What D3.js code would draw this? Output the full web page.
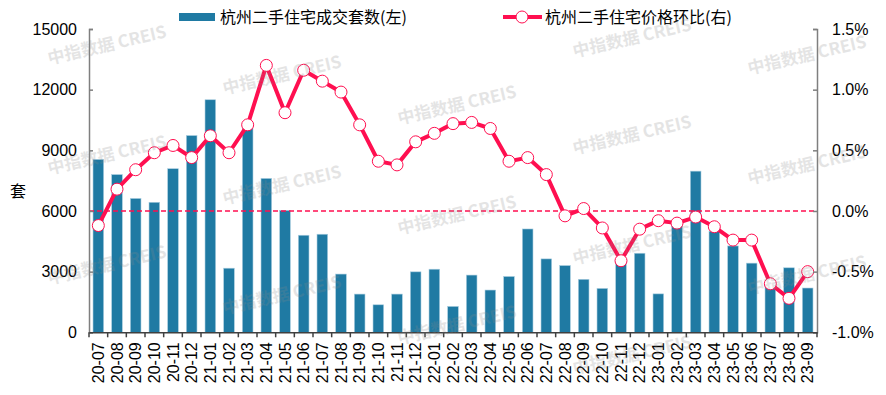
<!DOCTYPE html>
<html>
<head>
<meta charset="utf-8">
<script src="https://cdn.jsdelivr.net/npm/d3@7"></script>
<style>
  body { margin: 0; background: #fff; }
  svg { display: block; font-family: "Liberation Sans", Arial, sans-serif; }
</style>
</head>
<body>
<svg id="chart" width="886" height="395"></svg>
<script>
// months on the x axis
const months = ["20-07","20-08","20-09","20-10","20-11","20-12","21-01","21-02","21-03","21-04",
  "21-05","21-06","21-07","21-08","21-09","21-10","21-11","21-12","22-01","22-02","22-03",
  "22-04","22-05","22-06","22-07","22-08","22-09","22-10","22-11","22-12","23-01","23-02",
  "23-03","23-04","23-05","23-06","23-07","23-08","23-09"];

// second-hand home transactions (units), left axis
const deals = [8550, 7800, 6620, 6430, 8090, 9730, 11500, 3170, 10100, 7610,
  6030, 4800, 4850, 2880, 1890, 1360, 1890, 2990, 3120, 1280, 2830,
  2090, 2760, 5110, 3630, 3300, 2620, 2170, 3600, 3910, 1900, 5300,
  7970, 5000, 4270, 3420, 2300, 3190, 2190];

// second-hand home price month-on-month change (%), right axis
const priceMoM = [-0.12, 0.18, 0.34, 0.48, 0.54, 0.44, 0.62, 0.48, 0.71, 1.20,
  0.81, 1.16, 1.07, 0.98, 0.71, 0.41, 0.38, 0.57, 0.64, 0.72, 0.73,
  0.68, 0.41, 0.44, 0.30, -0.04, 0.02, -0.14, -0.41, -0.15, -0.08, -0.10,
  -0.05, -0.13, -0.24, -0.24, -0.60, -0.72, -0.50];

const leftTicks = [0, 3000, 6000, 9000, 12000, 15000];
const rightTicks = [-1.0, -0.5, 0, 0.5, 1.0, 1.5];

const barName = "杭州二手住宅成交套数(左)";
const lineName = "杭州二手住宅价格环比(右)";

const barColor = "#1f7aa3";
const lineColor = "#ff0f50";

const svg = d3.select("#chart");
const margin = { left: 89, right: 69, top: 29, bottom: 62 };
const width = 886 - margin.left - margin.right;
const height = 395 - margin.top - margin.bottom - 0.7;

const g = svg.append("g").attr("transform", `translate(${margin.left},${margin.top})`);

const x = d3.scaleBand().domain(months).range([0, width]).paddingInner(0.43).paddingOuter(0.215);
const yL = d3.scaleLinear().domain([0, 15000]).range([height, 0]);
const yR = d3.scaleLinear().domain([-1, 1.5]).range([height, 0]);

// bars
g.selectAll(".bar")
  .data(deals)
  .enter()
  .append("rect")
  .attr("class", "bar")
  .attr("x", (d, i) => x(months[i]))
  .attr("width", x.bandwidth())
  .attr("y", d => yL(d))
  .attr("height", d => height - yL(d))
  .attr("fill", barColor)
  .attr("stroke", "#a9cde0")
  .attr("stroke-width", 0.6);

// zero line of the right axis
g.append("line")
  .attr("x1", 0).attr("x2", width)
  .attr("y1", yR(0)).attr("y2", yR(0))
  .attr("stroke", lineColor)
  .attr("stroke-width", 1.5)
  .attr("stroke-dasharray", "5,3");

// price line
const cx = i => x(months[i]) + x.bandwidth() / 2;
const line = d3.line().x((d, i) => cx(i)).y(d => yR(d));
g.append("path")
  .datum(priceMoM)
  .attr("d", line)
  .attr("fill", "none")
  .attr("stroke", lineColor)
  .attr("stroke-width", 4)
  .attr("stroke-linejoin", "round");

g.selectAll(".dot")
  .data(priceMoM)
  .enter()
  .append("circle")
  .attr("class", "dot")
  .attr("cx", (d, i) => cx(i))
  .attr("cy", d => yR(d))
  .attr("r", 6)
  .attr("fill", "#fff")
  .attr("stroke", lineColor)
  .attr("stroke-width", 1);

// axes
const axisColor = "#7f7f7f";
const leftAxis = g.append("g")
  .call(d3.axisLeft(yL).tickValues(leftTicks).tickSize(-4).tickPadding(12).tickFormat(d3.format("d")));
const rightAxis = g.append("g")
  .attr("transform", `translate(${width},0)`)
  .call(d3.axisRight(yR).tickValues(rightTicks).tickSize(-4).tickPadding(15).tickFormat(d => d.toFixed(1) + "%"));
const bottomAxis = g.append("g")
  .attr("transform", `translate(0,${height})`)
  .call(d3.axisBottom(x).tickSize(0).tickPadding(0));

[leftAxis, rightAxis].forEach(a => {
  a.select(".domain").attr("stroke", axisColor).attr("stroke-width", 1.5);
  a.selectAll(".tick line").attr("stroke", axisColor).attr("stroke-width", 1.5);
  a.selectAll("text").attr("font-size", 16).attr("fill", "#000")
    .attr("font-family", "Liberation Sans, Arial, sans-serif");
});

bottomAxis.select(".domain").attr("stroke", "#404040").attr("stroke-width", 1.5);
bottomAxis.selectAll(".tick text")
  .attr("font-size", 16)
  .attr("fill", "#000")
  .attr("font-family", "Liberation Sans, Arial, sans-serif")
  .attr("transform", "rotate(-90)")
  .attr("text-anchor", "end")
  .attr("dy", "0.35em")
  .attr("x", -10)
  .attr("y", 0);

// category boundary ticks below the x axis
const step = x.step();
g.append("g").selectAll("line")
  .data(d3.range(months.length + 1))
  .enter()
  .append("line")
  .attr("x1", i => i * step).attr("x2", i => i * step)
  .attr("y1", height).attr("y2", height + 5)
  .attr("stroke", "#404040")
  .attr("stroke-width", 1.5);

// y title
svg.append("text")
  .attr("x", 18).attr("y", 197)
  .attr("text-anchor", "middle")
  .attr("font-size", 16)
  .attr("font-family", "Noto Sans CJK SC, sans-serif")
  .text("套");

// legend
const legend = svg.append("g").attr("font-family", "Noto Sans CJK SC, sans-serif").attr("font-size", 16);
legend.append("rect").attr("x", 179).attr("y", 13).attr("width", 36).attr("height", 8).attr("fill", barColor);
legend.append("text").attr("x", 220).attr("y", 23).text(barName);
legend.append("line").attr("x1", 503).attr("x2", 542).attr("y1", 17).attr("y2", 17)
  .attr("stroke", lineColor).attr("stroke-width", 4);
legend.append("circle").attr("cx", 522).attr("cy", 17).attr("r", 6)
  .attr("fill", "#fff").attr("stroke", lineColor).attr("stroke-width", 1);
legend.append("text").attr("x", 545).attr("y", 23).text(lineName);

// watermark, only the copies that fit inside the picture
const marks = [];
for (let c = 0; c < 5; c++) {
  for (let r = -1; r < 4; r++) {
    let my = 45 + 30 * c + 110 * r;
    if (my > 20 && my < 36) my = 38;
    if (my > 36 && my < 372) marks.push({ x: 107 + 175 * c, y: my });
  }
}
svg.append("g").selectAll("text")
  .data(marks)
  .enter()
  .append("text")
  .attr("transform", d => `translate(${d.x},${d.y}) rotate(-13)`)
  .attr("text-anchor", "middle")
  .attr("dy", "0.35em")
  .attr("font-size", 17)
  .attr("font-weight", "bold")
  .attr("font-family", "Noto Sans CJK SC, sans-serif")
  .attr("fill", "#8a8a8a")
  .attr("opacity", 0.22)
  .text("中指数据 CREIS");
</script>
</body>
</html>
